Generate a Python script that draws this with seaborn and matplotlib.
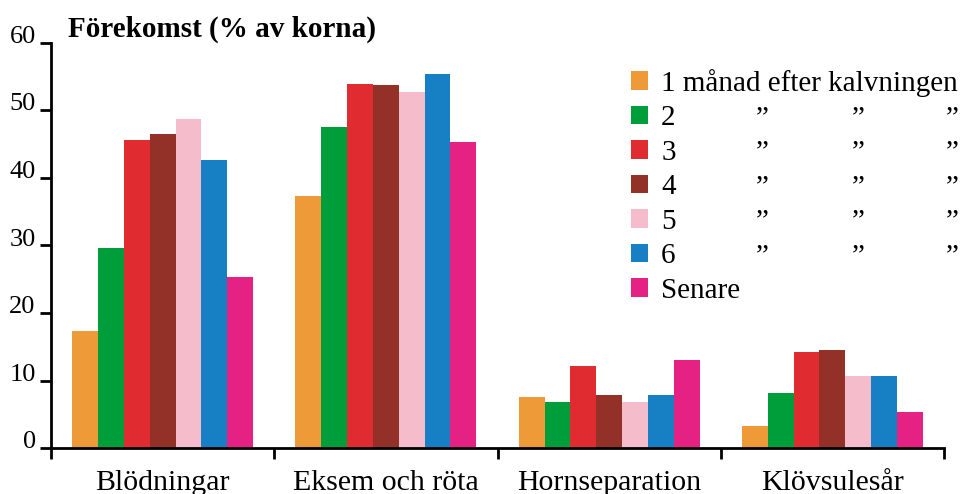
import pandas as pd
import matplotlib
matplotlib.use("Agg")
import matplotlib.pyplot as plt
import seaborn as sns

# categories and series
categories = ["Blödningar", "Eksem och röta", "Hornseparation", "Klövsulesår"]
periods = ["1 månad efter kalvningen", "2", "3", "4", "5", "6", "Senare"]
values = {
    "1 månad efter kalvningen": [17.3, 37.3, 7.6, 3.3],
    "2": [29.6, 47.5, 6.8, 8.1],
    "3": [45.6, 53.9, 12.1, 14.2],
    "4": [46.5, 53.8, 7.9, 14.5],
    "5": [48.7, 52.7, 6.8, 10.7],
    "6": [42.7, 55.4, 7.9, 10.7],
    "Senare": [25.3, 45.3, 13.0, 5.3],
}
colors = ["#EE9A38", "#009E3A", "#E02B31", "#933128", "#F5BDCB", "#1780C4", "#E52284"]
yticks = [0, 10, 20, 30, 40, 50, 60]

rows = []
for p in periods:
    for c, v in zip(categories, values[p]):
        rows.append({"kategori": c, "period": p, "procent": v})
df = pd.DataFrame(rows)

sns.set_style("white")
plt.rcParams["font.family"] = ["Liberation Serif", "DejaVu Serif"]
plt.rcParams["text.color"] = "black"
plt.rcParams["xtick.color"] = "black"
plt.rcParams["ytick.color"] = "black"

fig = plt.figure(figsize=(9.63, 4.94), dpi=100)
ax = fig.add_axes([51 / 963, 1 - 448 / 494, (944 - 51) / 963, (448 - 43) / 494])

sns.barplot(data=df, x="kategori", y="procent", hue="period", hue_order=periods,
            order=categories, palette=colors, width=0.81, saturation=1,
            errorbar=None, ax=ax, linewidth=0)

ax.set_xlim(-0.5, 3.5)
ax.set_ylim(0, 60)
ax.set_xlabel("")
ax.set_ylabel("")

# spines
for s in ["top", "right"]:
    ax.spines[s].set_visible(False)
for s in ["left", "bottom"]:
    ax.spines[s].set_linewidth(2)
    ax.spines[s].set_color("black")

# y axis: labels sitting on the ticks
ax.set_yticks(yticks)
ax.set_yticklabels([str(t) for t in yticks], fontsize=19)
ax.tick_params(axis="y", direction="out", length=8, width=2, pad=3, left=True)
for t in ax.get_yticklabels():
    t.set_verticalalignment("baseline")

# x axis: ticks at group boundaries, labels at centres
ax.set_xticks([-0.5, 0.5, 1.5, 2.5, 3.5])
ax.set_xticklabels([])
ax.set_xticks([0, 1, 2, 3], minor=True)
ax.set_xticklabels(categories, minor=True, fontsize=21.5)
ax.tick_params(axis="x", which="major", direction="out", length=8, width=2, bottom=True)
ax.tick_params(axis="x", which="minor", length=0, pad=15.5)

fig.text(68 / 963, 1 - 37 / 494, "Förekomst (% av korna)", fontsize=21,
         fontweight="bold", ha="left", va="baseline")

leg = ax.legend(loc="upper left", bbox_to_anchor=(0.636, 0.965), frameon=False,
                fontsize=21, handlelength=0.6, handleheight=0.6,
                handletextpad=0.45, labelspacing=0.29, borderaxespad=0)

fig.canvas.draw()
inv = fig.transFigure.inverted()
for t in leg.get_texts()[1:6]:
    bb = t.get_window_extent()
    for xpix in [762, 858, 952]:
        xf, yf = inv.transform((xpix, bb.y1))
        fig.text(xf, yf, "\u201d", fontsize=21, ha="center", va="top")

fig.savefig("out.png", dpi=100)
